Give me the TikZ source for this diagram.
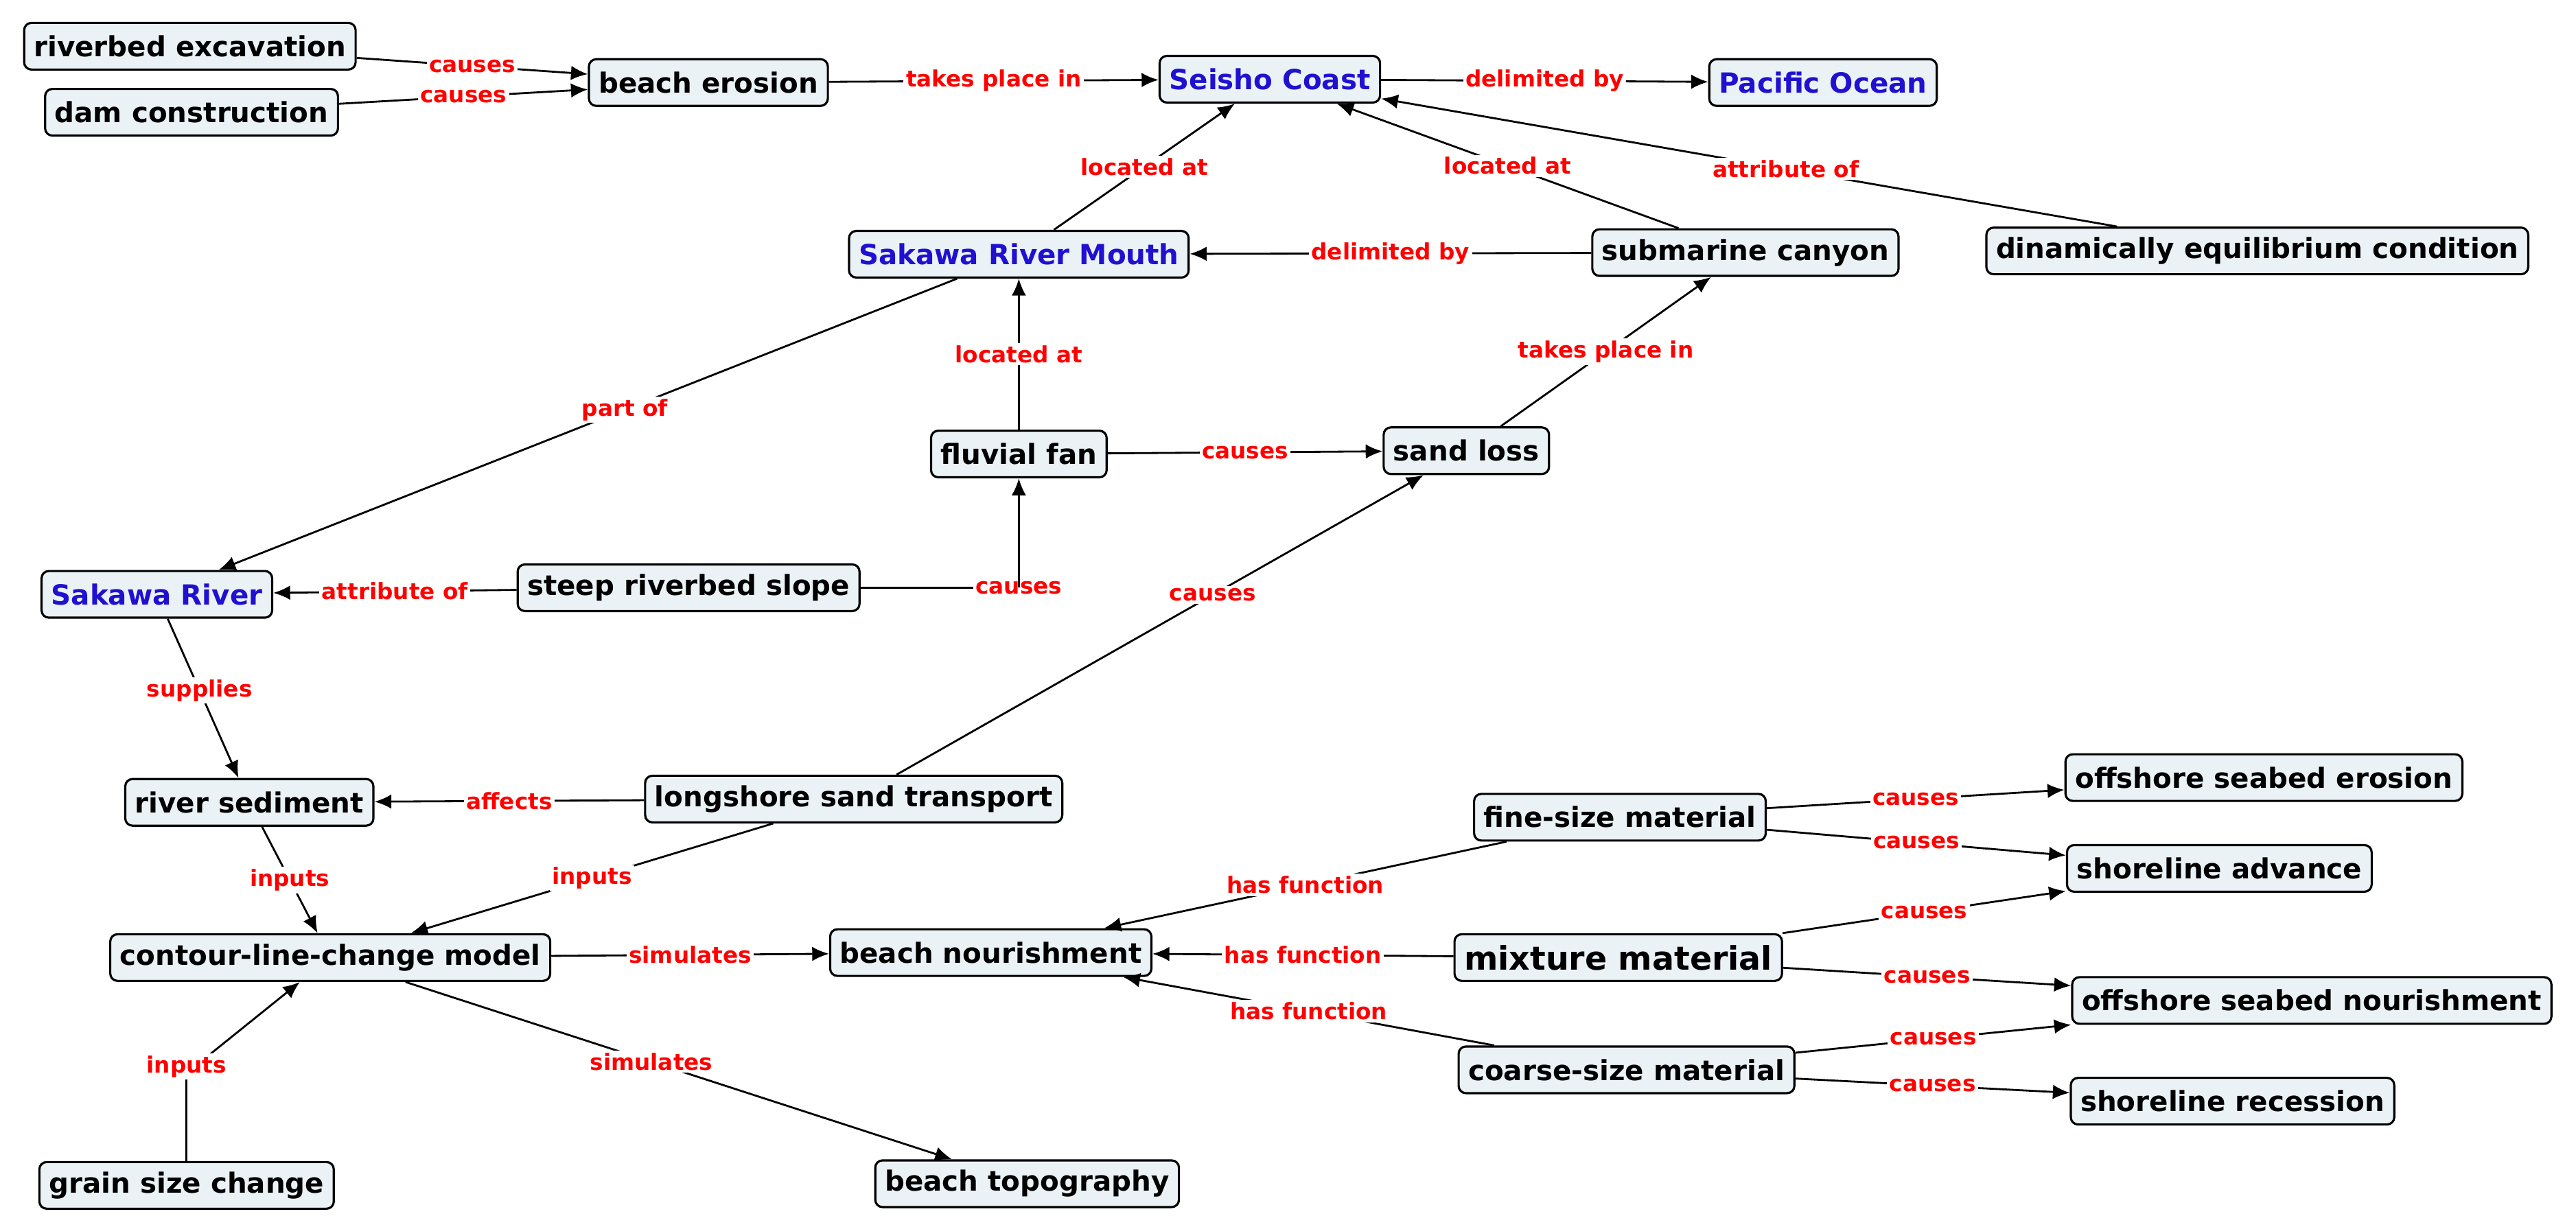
\documentclass[tikz,border=0pt]{standalone}
\usepackage{fontspec}
\setmainfont{DejaVu Sans}
\usetikzlibrary{arrows.meta}
\definecolor{nfill}{HTML}{EAF2F6}
\definecolor{cblue}{HTML}{2010D0}
\begin{document}
\begin{tikzpicture}[x=0.02406cm,y=-0.02406cm,
 n/.style={draw=black,line width=0.9pt,fill=nfill,rounded corners=3pt,font=\bfseries\fontsize{11.5}{13}\selectfont,inner sep=4pt,minimum height=0.68cm},
 b/.style={n,text=cblue},
 l/.style={fill=white,text=red,font=\bfseries\fontsize{9.3}{11}\selectfont,inner sep=1pt},
 a/.style={draw=black,line width=0.8pt,-{Latex[length=7pt,width=6pt]}}]
\useasboundingbox (0,0) rectangle (1560,743);
\node[n] (re) at (115,28) {riverbed excavation};
\node[n] (dc) at (116,68) {dam construction};
\node[n] (be) at (429,50) {beach erosion};
\node[b] (sc) at (769,48) {Seisho Coast};
\node[b] (po) at (1104,50) {Pacific Ocean};
\node[b] (srm) at (617,154) {Sakawa River Mouth};
\node[n] (cn) at (1057,153) {submarine canyon};
\node[n] (dec) at (1367,152) {dinamically equilibrium condition};
\node[n] (ff) at (617,275) {fluvial fan};
\node[n] (sl) at (888,273) {sand loss};
\node[b] (sr) at (95,360) {Sakawa River};
\node[n] (srs) at (417,356) {steep riverbed slope};
\node[n] (rs) at (151,486) {river sediment};
\node[n] (lst) at (517,484) {longshore sand transport};
\node[n] (fm) at (981,495) {fine-size material};
\node[n] (ose) at (1371,471) {offshore seabed erosion};
\node[n] (sa) at (1344,526) {shoreline advance};
\node[n] (clm) at (200,580) {contour-line-change model};
\node[n] (bn) at (600,577) {beach nourishment};
\node[n,font=\bfseries\fontsize{13.5}{15}\selectfont] (mm) at (980,580) {mixture material};
\node[n] (osn) at (1400,606) {offshore seabed nourishment};
\node[n] (cm) at (985,648) {coarse-size material};
\node[n] (shr) at (1352,667) {shoreline recession};
\node[n] (gs) at (113,718) {grain size change};
\node[n] (bt) at (622,717) {beach topography};
\coordinate (elb) at (617,356);
\coordinate (gk) at (113,650);
\draw[a] (re) -- node[l]{causes} (be);
\draw[a] (dc) -- node[l]{causes} (be);
\draw[a] (be) -- node[l]{takes place in} (sc);
\draw[a] (sc) -- node[l]{delimited by} (po);
\draw[a] (srm) -- node[l]{located at} (sc);
\draw[a] (cn) -- node[l]{located at} (sc);
\draw[a] (dec) -- node[l,pos=0.45]{attribute of} (sc);
\draw[a] (cn) -- node[l]{delimited by} (srm);
\draw[a] (ff) -- node[l]{located at} (srm);
\draw[a] (ff) -- node[l]{causes} (sl);
\draw[a] (sl) -- node[l]{takes place in} (cn);
\draw[a] (srm) -- node[l,pos=0.45]{part of} (sr);
\draw[a] (srs) -- node[l]{attribute of} (sr);
\draw[line width=0.8pt] (srs) -- (elb);
\node[l] at (elb) {causes};
\draw[a] (elb) -- (ff);
\draw[a] (lst) -- node[l,pos=0.6]{causes} (sl);
\draw[a] (sr) -- node[l,pos=0.45]{supplies} (rs);
\draw[a] (lst) -- node[l]{affects} (rs);
\draw[a] (rs) -- node[l]{inputs} (clm);
\draw[a] (lst) -- node[l]{inputs} (clm);
\draw[a] (clm) -- node[l]{simulates} (bn);
\draw[a] (clm) -- node[l,pos=0.45]{simulates} (bt);
\draw[line width=0.8pt] (gs) -- (gk);
\draw[a] (gk) -- (clm);
\node[l] at (113,646) {inputs};
\draw[a] (fm) -- node[l]{has function} (bn);
\draw[a] (mm) -- node[l]{has function} (bn);
\draw[a] (cm) -- node[l]{has function} (bn);
\draw[a] (fm) -- node[l]{causes} (ose);
\draw[a] (fm) -- node[l]{causes} (sa);
\draw[a] (mm) -- node[l]{causes} (sa);
\draw[a] (mm) -- node[l]{causes} (osn);
\draw[a] (cm) -- node[l]{causes} (osn);
\draw[a] (cm) -- node[l]{causes} (shr);
\end{tikzpicture}
\end{document}
